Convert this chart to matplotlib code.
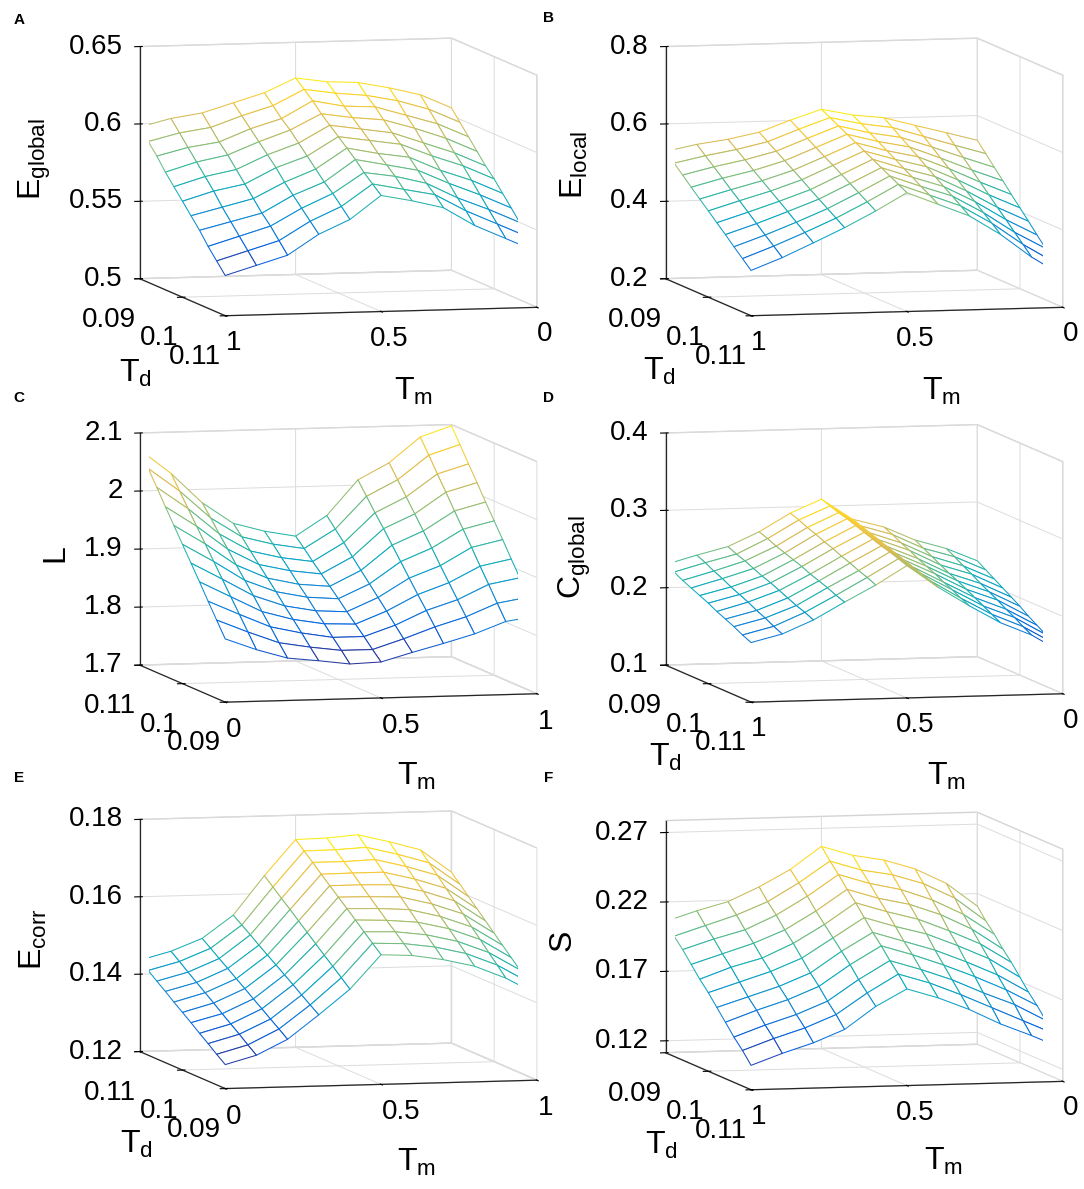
import numpy as np
import matplotlib
matplotlib.use("Agg")
import matplotlib.pyplot as plt
from matplotlib.colors import LinearSegmentedColormap, Normalize
from matplotlib.transforms import offset_copy
from mpl_toolkits.mplot3d import proj3d

plt.rcParams["font.family"] = ["Liberation Sans", "DejaVu Sans"]
plt.rcParams["mathtext.fontset"] = "custom"
plt.rcParams["mathtext.rm"] = "Liberation Sans"
plt.rcParams["mathtext.it"] = "Liberation Sans:italic"
plt.rcParams["grid.color"] = "#dcdcdc"
plt.rcParams["grid.linewidth"] = 0.7

tm = [0.0, 0.1, 0.2, 0.3, 0.4, 0.5, 0.6, 0.7, 0.8, 0.9, 1.0]
td = [0.090, 0.092, 0.094, 0.096, 0.098, 0.100, 0.102, 0.104, 0.106, 0.108, 0.110]

# rows: T_d from 0.09 to 0.11, columns: T_m from 0 to 1
e_global = [
    [0.605, 0.614, 0.619, 0.623, 0.624, 0.627, 0.618, 0.612, 0.606, 0.603, 0.598],
    [0.598, 0.607, 0.613, 0.617, 0.619, 0.622, 0.612, 0.606, 0.599, 0.596, 0.591],
    [0.591, 0.600, 0.606, 0.612, 0.613, 0.617, 0.606, 0.600, 0.592, 0.589, 0.584],
    [0.584, 0.593, 0.600, 0.606, 0.608, 0.611, 0.601, 0.594, 0.586, 0.582, 0.576],
    [0.577, 0.586, 0.593, 0.600, 0.603, 0.606, 0.595, 0.588, 0.579, 0.575, 0.569],
    [0.571, 0.580, 0.587, 0.595, 0.598, 0.601, 0.589, 0.582, 0.572, 0.568, 0.562],
    [0.564, 0.573, 0.580, 0.589, 0.592, 0.596, 0.583, 0.575, 0.565, 0.560, 0.555],
    [0.557, 0.566, 0.574, 0.583, 0.587, 0.591, 0.577, 0.569, 0.558, 0.553, 0.548],
    [0.550, 0.559, 0.567, 0.577, 0.582, 0.585, 0.572, 0.563, 0.552, 0.546, 0.540],
    [0.543, 0.552, 0.561, 0.572, 0.576, 0.580, 0.566, 0.557, 0.545, 0.539, 0.533],
    [0.536, 0.545, 0.554, 0.566, 0.571, 0.575, 0.560, 0.551, 0.538, 0.532, 0.526],
]

e_local = [
    [0.536, 0.558, 0.579, 0.601, 0.610, 0.627, 0.601, 0.572, 0.556, 0.545, 0.529],
    [0.511, 0.535, 0.560, 0.585, 0.597, 0.615, 0.587, 0.557, 0.539, 0.525, 0.508],
    [0.485, 0.513, 0.542, 0.569, 0.583, 0.603, 0.573, 0.542, 0.522, 0.506, 0.487],
    [0.460, 0.490, 0.523, 0.554, 0.570, 0.591, 0.559, 0.527, 0.504, 0.486, 0.465],
    [0.434, 0.468, 0.505, 0.538, 0.556, 0.579, 0.545, 0.512, 0.487, 0.466, 0.444],
    [0.409, 0.445, 0.486, 0.522, 0.543, 0.567, 0.532, 0.497, 0.470, 0.447, 0.423],
    [0.384, 0.422, 0.467, 0.506, 0.529, 0.555, 0.518, 0.481, 0.453, 0.427, 0.402],
    [0.358, 0.400, 0.449, 0.490, 0.516, 0.543, 0.504, 0.466, 0.436, 0.407, 0.381],
    [0.333, 0.377, 0.430, 0.475, 0.502, 0.531, 0.490, 0.451, 0.418, 0.387, 0.359],
    [0.307, 0.355, 0.412, 0.459, 0.489, 0.519, 0.476, 0.436, 0.401, 0.368, 0.338],
    [0.282, 0.332, 0.393, 0.443, 0.475, 0.507, 0.462, 0.421, 0.384, 0.348, 0.317],
]

path_len = [
    [1.809, 1.789, 1.773, 1.767, 1.760, 1.762, 1.777, 1.791, 1.806, 1.826, 1.834],
    [1.835, 1.813, 1.793, 1.784, 1.777, 1.777, 1.794, 1.813, 1.829, 1.851, 1.860],
    [1.861, 1.837, 1.814, 1.802, 1.793, 1.793, 1.811, 1.835, 1.852, 1.877, 1.887],
    [1.888, 1.861, 1.834, 1.819, 1.810, 1.808, 1.829, 1.856, 1.875, 1.902, 1.913],
    [1.914, 1.885, 1.855, 1.836, 1.826, 1.823, 1.846, 1.878, 1.898, 1.928, 1.940],
    [1.940, 1.909, 1.875, 1.854, 1.843, 1.839, 1.863, 1.900, 1.922, 1.953, 1.966],
    [1.966, 1.933, 1.895, 1.871, 1.859, 1.854, 1.880, 1.922, 1.945, 1.978, 1.992],
    [1.992, 1.957, 1.916, 1.888, 1.876, 1.869, 1.897, 1.944, 1.968, 2.004, 2.019],
    [2.019, 1.981, 1.936, 1.905, 1.892, 1.884, 1.915, 1.965, 1.991, 2.029, 2.045],
    [2.045, 2.005, 1.957, 1.923, 1.909, 1.900, 1.932, 1.987, 2.014, 2.055, 2.072],
    [2.071, 2.029, 1.977, 1.940, 1.925, 1.915, 1.949, 2.009, 2.037, 2.080, 2.098],
]

c_global = [
    [0.224, 0.241, 0.253, 0.271, 0.282, 0.309, 0.292, 0.269, 0.251, 0.241, 0.230],
    [0.217, 0.235, 0.247, 0.266, 0.278, 0.305, 0.288, 0.265, 0.246, 0.236, 0.225],
    [0.210, 0.228, 0.241, 0.260, 0.274, 0.301, 0.283, 0.260, 0.242, 0.230, 0.219],
    [0.203, 0.222, 0.235, 0.255, 0.270, 0.298, 0.279, 0.256, 0.237, 0.225, 0.214],
    [0.196, 0.215, 0.229, 0.249, 0.266, 0.294, 0.274, 0.252, 0.232, 0.219, 0.209],
    [0.189, 0.209, 0.224, 0.244, 0.262, 0.290, 0.270, 0.248, 0.228, 0.214, 0.204],
    [0.181, 0.203, 0.218, 0.239, 0.258, 0.286, 0.265, 0.243, 0.223, 0.209, 0.198],
    [0.174, 0.196, 0.212, 0.233, 0.254, 0.282, 0.261, 0.239, 0.218, 0.203, 0.193],
    [0.167, 0.190, 0.206, 0.228, 0.250, 0.279, 0.256, 0.235, 0.213, 0.198, 0.188],
    [0.160, 0.183, 0.200, 0.222, 0.246, 0.275, 0.252, 0.230, 0.209, 0.192, 0.182],
    [0.153, 0.177, 0.194, 0.217, 0.242, 0.271, 0.247, 0.226, 0.204, 0.187, 0.177],
]

e_corr = [
    [0.1262, 0.1284, 0.1323, 0.1384, 0.1448, 0.1535, 0.1531, 0.1518, 0.1499, 0.1466, 0.1422],
    [0.1279, 0.1301, 0.1340, 0.1400, 0.1468, 0.1555, 0.1552, 0.1541, 0.1522, 0.1490, 0.1444],
    [0.1297, 0.1319, 0.1356, 0.1416, 0.1488, 0.1575, 0.1573, 0.1563, 0.1544, 0.1513, 0.1466],
    [0.1314, 0.1336, 0.1373, 0.1433, 0.1507, 0.1596, 0.1593, 0.1586, 0.1567, 0.1537, 0.1488],
    [0.1332, 0.1353, 0.1389, 0.1449, 0.1527, 0.1616, 0.1614, 0.1609, 0.1589, 0.1560, 0.1510],
    [0.1349, 0.1371, 0.1406, 0.1465, 0.1547, 0.1636, 0.1635, 0.1632, 0.1612, 0.1584, 0.1532],
    [0.1366, 0.1388, 0.1422, 0.1481, 0.1567, 0.1656, 0.1656, 0.1654, 0.1635, 0.1608, 0.1554],
    [0.1384, 0.1405, 0.1439, 0.1497, 0.1587, 0.1676, 0.1677, 0.1677, 0.1657, 0.1631, 0.1576],
    [0.1401, 0.1422, 0.1455, 0.1514, 0.1606, 0.1697, 0.1697, 0.1700, 0.1680, 0.1655, 0.1598],
    [0.1419, 0.1440, 0.1472, 0.1530, 0.1626, 0.1717, 0.1718, 0.1722, 0.1702, 0.1678, 0.1620],
    [0.1436, 0.1457, 0.1488, 0.1546, 0.1646, 0.1737, 0.1739, 0.1745, 0.1725, 0.1702, 0.1642],
]

small_world = [
    [0.211, 0.228, 0.239, 0.246, 0.250, 0.257, 0.241, 0.229, 0.219, 0.213, 0.206],
    [0.203, 0.220, 0.231, 0.238, 0.242, 0.249, 0.234, 0.221, 0.212, 0.205, 0.198],
    [0.196, 0.211, 0.222, 0.230, 0.235, 0.242, 0.227, 0.214, 0.204, 0.198, 0.191],
    [0.188, 0.203, 0.214, 0.222, 0.227, 0.234, 0.219, 0.206, 0.197, 0.190, 0.183],
    [0.181, 0.195, 0.205, 0.214, 0.220, 0.227, 0.212, 0.199, 0.189, 0.183, 0.175],
    [0.173, 0.187, 0.197, 0.206, 0.212, 0.219, 0.205, 0.191, 0.182, 0.175, 0.168],
    [0.165, 0.178, 0.188, 0.197, 0.204, 0.211, 0.198, 0.183, 0.174, 0.167, 0.160],
    [0.158, 0.170, 0.180, 0.189, 0.197, 0.204, 0.191, 0.176, 0.167, 0.160, 0.152],
    [0.150, 0.162, 0.171, 0.181, 0.189, 0.196, 0.183, 0.168, 0.159, 0.152, 0.144],
    [0.143, 0.153, 0.163, 0.173, 0.182, 0.189, 0.176, 0.161, 0.152, 0.145, 0.137],
    [0.135, 0.145, 0.154, 0.165, 0.174, 0.181, 0.169, 0.153, 0.144, 0.137, 0.129],
]

tm_ticks = [0, 0.5, 1]
tm_labels = ["0", "0.5", "1"]
td_ticks = [0.09, 0.1, 0.11]
td_labels = ["0.09", "0.1", "0.11"]

parula = LinearSegmentedColormap.from_list(
    "parula", ["#352a87", "#0363e1", "#1485d4", "#06a7c6", "#38b99e",
               "#92bf73", "#d9ba56", "#fcce2e", "#f9fb0e"])

# letter, data, z label, z limits, z ticks, T_m reversed (0 on the right)
panels = [
    ("A", e_global, r"E$_{\mathrm{global}}$", (0.5, 0.65), [0.5, 0.55, 0.6, 0.65], True),
    ("B", e_local, r"E$_{\mathrm{local}}$", (0.2, 0.8), [0.2, 0.4, 0.6, 0.8], True),
    ("C", path_len, "L", (1.7, 2.1), [1.7, 1.8, 1.9, 2.0, 2.1], False),
    ("D", c_global, r"C$_{\mathrm{global}}$", (0.1, 0.4), [0.1, 0.2, 0.3, 0.4], True),
    ("E", e_corr, r"E$_{\mathrm{corr}}$", (0.12, 0.18), [0.12, 0.14, 0.16, 0.18], False),
    ("F", small_world, "S", (0.1114, 0.2786), [0.12, 0.17, 0.22, 0.27], True),
]

# layout in pixels: axes (left, bottom) fraction, z label centre, T_d label centre, T_m label centre
ax_pos = [(0.0675, 0.692), (0.5526, 0.692), (0.0675, 0.367),
          (0.5526, 0.367), (0.0675, 0.042), (0.5526, 0.041)]
zlab_xy = [(35, 159), (574, 165), (55, 553), (575, 557), (33, 939), (563, 940)]
tdlab_xy = [(135, 373), (659, 371), None, (665, 757), (136, 1144), (661, 1145)]
tmlab_xy = [(413, 391), (941, 391), (416, 776), (946, 776), (416, 1162), (943, 1161)]
letter_xy = [(19, 20), (549, 18), (19, 398), (549, 398), (19, 778), (549, 778)]

W, H = 1084, 1189
fig = plt.figure(figsize=(10.84, 11.89), dpi=100)

X, Y = np.meshgrid(tm, td)


def tick_text(ax, M, xyz, label, dx, dy, ha):
    # project a 3D tick point and write its label with a pixel offset
    px, py, _ = proj3d.proj_transform(*xyz, M)
    tr = offset_copy(ax.transData, fig=fig, x=dx, y=dy, units="dots")
    ax.text2D(px, py, label, transform=tr, fontsize=20, ha=ha, va="center")


for i, (letter, data, zlab, zlim, zticks, rev) in enumerate(panels):
    ax = fig.add_axes([ax_pos[i][0], ax_pos[i][1], 0.48, 0.31], projection="3d")
    ax.patch.set_alpha(0)
    Z = np.array(data)
    norm = Normalize(Z.min(), Z.max())
    surf = ax.plot_surface(X, Y, Z, rstride=1, cstride=1, color="white",
                           shade=False, linewidth=0.75, antialiased=True)
    zc = (Z[:-1, :-1] + Z[1:, :-1] + Z[:-1, 1:] + Z[1:, 1:]) / 4
    surf.set_edgecolor(parula(norm(zc)).reshape(-1, 4))
    surf.set_facecolor("white")

    ax.set_proj_type("ortho")
    ax.view_init(elev=6.2, azim=76 if rev else -104)
    ax.set_box_aspect((1, 1.10, 0.727), zoom=1.4)

    ax.set_xlim(0, 1)
    ax.set_ylim(0.09, 0.11)
    ax.set_zlim(*zlim)
    ax.set_xticks(tm_ticks)
    ax.set_yticks(td_ticks)
    ax.set_zticks(zticks)

    for axis in (ax.xaxis, ax.yaxis, ax.zaxis):
        axis.set_tick_params(labelbottom=False, labeltop=False)
        axis.set_pane_color((1, 1, 1, 1))
        axis.pane.set_edgecolor("#d4d4d4")
        axis.line.set_color("#262626")
        axis.line.set_linewidth(0.9)

    # tick labels, MATLAB style, offset in pixels from the projected tick points
    M = ax.get_proj()
    x_left = 1.0 if rev else 0.0
    td_back = 0.09 if rev else 0.11
    td_front = 0.11 if rev else 0.09
    for t in zticks:
        tick_text(ax, M, (x_left, td_back, t), f"{t:g}", -17, 0, "right")
    for t, lab in zip(td_ticks, td_labels):
        tick_text(ax, M, (x_left, t, zlim[0]), lab, -4, -41, "right")
    for t, lab in zip(tm_ticks, tm_labels):
        if rev:
            tick_text(ax, M, (t, td_front, zlim[0]), lab, 8, -27, "center")
        else:
            tick_text(ax, M, (t, td_front, zlim[0]), lab, 1, -28, "left")

    fig.text(zlab_xy[i][0] / W, 1 - zlab_xy[i][1] / H, zlab, fontsize=23,
             rotation=90, ha="center", va="center")
    if tdlab_xy[i] is not None:
        fig.text(tdlab_xy[i][0] / W, 1 - tdlab_xy[i][1] / H, r"T$_{\mathrm{d}}$",
                 fontsize=23, ha="center", va="center")
    fig.text(tmlab_xy[i][0] / W, 1 - tmlab_xy[i][1] / H, r"T$_{\mathrm{m}}$",
             fontsize=23, ha="center", va="center")
    fig.text(letter_xy[i][0] / W, 1 - letter_xy[i][1] / H, letter,
             fontsize=11, fontweight="bold", ha="center", va="center")

fig.savefig("out.png", dpi=100)
